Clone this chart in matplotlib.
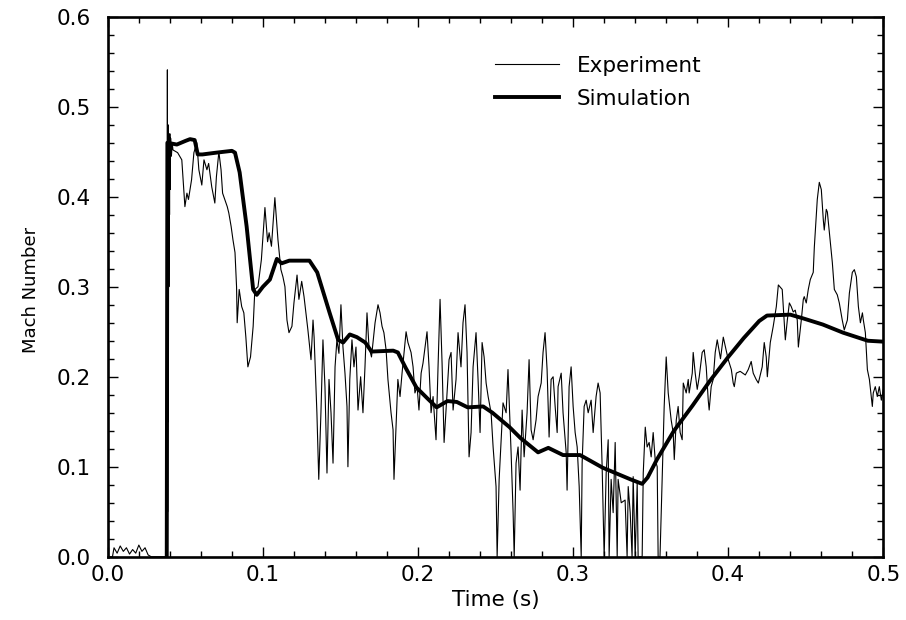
import matplotlib
matplotlib.use("Agg")
import matplotlib.pyplot as plt
from matplotlib.ticker import MultipleLocator

# ---------------- data ----------------
exp_t = [
    0.000, 0.003, 0.004, 0.006, 0.008, 0.010, 0.012, 0.014, 0.016, 0.018, 0.020, 0.022, 0.024, 0.026, 0.028, 0.0375,
    0.0380, 0.0382, 0.0384, 0.0386, 0.0388, 0.0390, 0.0392, 0.0394, 0.0396, 0.0398, 0.0400, 0.0402, 0.0405, 0.0410, 0.0415,
    0.042, 0.045, 0.0477, 0.0497, 0.051, 0.052, 0.054, 0.0555, 0.0574, 0.0587, 0.0606, 0.062, 0.0639, 0.065, 0.067,
    0.069, 0.070, 0.0716, 0.073, 0.074, 0.077, 0.078, 0.0795, 0.0807, 0.082, 0.083, 0.0834, 0.0847, 0.0863, 0.0877,
    0.089, 0.0903, 0.092, 0.0937, 0.0948, 0.0968, 0.099, 0.1013, 0.103, 0.104, 0.1055, 0.1077, 0.1097, 0.1116, 0.1129,
    0.1142, 0.1155, 0.1168, 0.1187, 0.120, 0.122, 0.1232, 0.125, 0.1265, 0.1277, 0.129, 0.131, 0.1323, 0.133, 0.1348,
    0.136, 0.1374, 0.1387, 0.140, 0.1413, 0.1426, 0.1439, 0.1452, 0.1465, 0.1477, 0.149, 0.1503, 0.1516, 0.1529, 0.1542,
    0.1548, 0.156, 0.1574, 0.1587, 0.160, 0.1613, 0.163, 0.1645, 0.1658, 0.1671, 0.1684, 0.170, 0.1723, 0.1742, 0.1755,
    0.1768, 0.178, 0.1794, 0.1806, 0.1826, 0.1839, 0.1845, 0.1858, 0.187, 0.1884, 0.1897, 0.191, 0.1923, 0.1935, 0.1955,
    0.1968, 0.198, 0.1994, 0.2006, 0.202, 0.2032, 0.2058, 0.2071, 0.2084, 0.2097, 0.2116, 0.2129, 0.2142, 0.2155, 0.2168,
    0.2187, 0.220, 0.2213, 0.2226, 0.2245, 0.2258, 0.2277, 0.229, 0.2303, 0.2316, 0.2329, 0.2342, 0.2355, 0.2374, 0.2387,
    0.240, 0.2413, 0.2426, 0.2439, 0.2452, 0.2471, 0.2484, 0.2503, 0.2510, 0.2523, 0.2535, 0.2548, 0.2568, 0.258, 0.260,
    0.2613, 0.2620, 0.2632, 0.2645, 0.2658, 0.2671, 0.2684, 0.2703, 0.2716, 0.2729, 0.2742, 0.2761, 0.2774, 0.2794, 0.2806,
    0.2819, 0.2832, 0.2845, 0.2858, 0.2871, 0.2884, 0.2897, 0.2903, 0.2923, 0.2935, 0.2955, 0.2961, 0.2974, 0.2987, 0.300,
    0.3013, 0.3026, 0.3039, 0.3052, 0.3058, 0.3071, 0.3084, 0.3097, 0.3116, 0.3129, 0.3148, 0.3161, 0.3174, 0.3187, 0.3200,
    0.3213, 0.3226, 0.3232, 0.3245, 0.3258, 0.3271, 0.3284, 0.3290, 0.331, 0.3335, 0.3348, 0.3355, 0.3368, 0.338, 0.3387,
    0.340, 0.3413, 0.3419, 0.3445, 0.3452, 0.3465, 0.3477, 0.349, 0.3503, 0.3516, 0.3529, 0.3542, 0.3548, 0.356, 0.3574,
    0.3587, 0.360, 0.3613, 0.3632, 0.3645, 0.3652, 0.3665, 0.3677, 0.369, 0.3703, 0.371, 0.3729, 0.3742, 0.3748, 0.3768,
    0.3774, 0.3787, 0.380, 0.3813, 0.3832, 0.3845, 0.3858, 0.3871, 0.3877, 0.389, 0.3903, 0.3916, 0.3929, 0.395, 0.3968,
    0.400, 0.402, 0.4032, 0.4039, 0.4052, 0.4077, 0.411, 0.4129, 0.4148, 0.4161, 0.418, 0.4194, 0.4219, 0.4232, 0.4245,
    0.4252, 0.4271, 0.429, 0.431, 0.4323, 0.4348, 0.4355, 0.4368, 0.4381, 0.4394, 0.4406, 0.4419, 0.4432, 0.4445, 0.4452,
    0.4471, 0.4484, 0.449, 0.4503, 0.4516, 0.4529, 0.4548, 0.4555, 0.4574, 0.4587, 0.460, 0.4613, 0.4619, 0.4632, 0.4639,
    0.4652, 0.4671, 0.4684, 0.4703, 0.4716, 0.4735, 0.4748, 0.4768, 0.4781, 0.480, 0.4813, 0.4826, 0.4839, 0.4852, 0.4865,
    0.4871, 0.4884, 0.4897, 0.491, 0.4929, 0.4935, 0.4948, 0.4961, 0.4974, 0.4987, 0.500,
]
exp_m = [
    0.000, 0.000, 0.010, 0.004, 0.012, 0.006, 0.010, 0.003, 0.008, 0.004, 0.013, 0.006, 0.010, 0.002, 0.000, 0.000,
    0.300, 0.000, 0.541, 0.050, 0.480, 0.150, 0.470, 0.300, 0.460, 0.380, 0.470, 0.408, 0.465, 0.445, 0.460,
    0.452, 0.449, 0.441, 0.389, 0.404, 0.397, 0.419, 0.449, 0.460, 0.430, 0.413, 0.441, 0.430, 0.437, 0.411,
    0.393, 0.422, 0.450, 0.430, 0.404, 0.389, 0.382, 0.367, 0.352, 0.338, 0.300, 0.260, 0.297, 0.278, 0.271,
    0.244, 0.211, 0.222, 0.256, 0.297, 0.300, 0.330, 0.388, 0.350, 0.360, 0.345, 0.399, 0.352, 0.319, 0.311,
    0.300, 0.263, 0.249, 0.256, 0.282, 0.313, 0.286, 0.306, 0.289, 0.271, 0.252, 0.219, 0.263, 0.244, 0.160,
    0.086, 0.160, 0.241, 0.189, 0.093, 0.197, 0.160, 0.104, 0.211, 0.241, 0.226, 0.280, 0.233, 0.204, 0.167,
    0.100, 0.197, 0.241, 0.211, 0.233, 0.163, 0.200, 0.160, 0.211, 0.271, 0.233, 0.222, 0.260, 0.280, 0.271,
    0.256, 0.249, 0.230, 0.197, 0.160, 0.141, 0.086, 0.144, 0.197, 0.178, 0.204, 0.227, 0.250, 0.238, 0.227,
    0.211, 0.182, 0.189, 0.163, 0.204, 0.215, 0.250, 0.211, 0.160, 0.178, 0.130, 0.211, 0.286, 0.215, 0.127,
    0.182, 0.219, 0.227, 0.163, 0.197, 0.249, 0.211, 0.260, 0.280, 0.227, 0.111, 0.138, 0.211, 0.249, 0.197,
    0.138, 0.238, 0.222, 0.193, 0.178, 0.160, 0.122, 0.078, 0.000, 0.086, 0.127, 0.171, 0.160, 0.208, 0.116,
    0.049, 0.000, 0.104, 0.122, 0.074, 0.163, 0.111, 0.160, 0.219, 0.141, 0.130, 0.152, 0.178, 0.193, 0.227,
    0.249, 0.208, 0.133, 0.197, 0.200, 0.167, 0.138, 0.189, 0.204, 0.160, 0.116, 0.074, 0.189, 0.211, 0.167,
    0.138, 0.122, 0.078, 0.000, 0.104, 0.167, 0.174, 0.160, 0.174, 0.138, 0.178, 0.193, 0.182, 0.100, 0.000,
    0.093, 0.130, 0.000, 0.086, 0.049, 0.127, 0.000, 0.086, 0.060, 0.063, 0.000, 0.078, 0.049, 0.000, 0.089,
    0.000, 0.082, 0.000, 0.000, 0.093, 0.144, 0.122, 0.127, 0.111, 0.138, 0.108, 0.100, 0.000, 0.000, 0.086,
    0.167, 0.222, 0.182, 0.152, 0.138, 0.108, 0.152, 0.167, 0.138, 0.130, 0.193, 0.182, 0.197, 0.182, 0.204,
    0.227, 0.204, 0.186, 0.200, 0.227, 0.230, 0.211, 0.174, 0.163, 0.189, 0.197, 0.227, 0.241, 0.220, 0.244,
    0.219, 0.208, 0.193, 0.189, 0.204, 0.206, 0.202, 0.208, 0.217, 0.204, 0.197, 0.193, 0.211, 0.238, 0.222,
    0.200, 0.238, 0.256, 0.278, 0.302, 0.297, 0.278, 0.241, 0.263, 0.282, 0.278, 0.272, 0.274, 0.263, 0.233,
    0.263, 0.286, 0.289, 0.282, 0.297, 0.308, 0.316, 0.344, 0.397, 0.416, 0.408, 0.374, 0.363, 0.386, 0.383,
    0.360, 0.327, 0.297, 0.291, 0.282, 0.263, 0.252, 0.263, 0.293, 0.316, 0.319, 0.311, 0.278, 0.260, 0.271,
    0.263, 0.249, 0.208, 0.197, 0.167, 0.182, 0.189, 0.178, 0.189, 0.174, 0.186,
]

sim_t = [
    0.0380, 0.0384, 0.0445, 0.050, 0.053, 0.056, 0.058, 0.061, 0.070, 0.080, 0.082, 0.085, 0.0895, 0.0937,
    0.096, 0.100, 0.1045, 0.109, 0.112, 0.117, 0.130, 0.135, 0.143, 0.1485, 0.1517, 0.156, 0.1606, 0.166,
    0.170, 0.184, 0.187, 0.192, 0.199, 0.206, 0.212, 0.219, 0.225, 0.232, 0.242, 0.248, 0.259, 0.266, 0.2774,
    0.284, 0.2935, 0.3045, 0.319, 0.337, 0.3445, 0.348, 0.354, 0.365, 0.377, 0.388, 0.400, 0.410, 0.420,
    0.425, 0.440, 0.448, 0.461, 0.474, 0.490, 0.500,
]
sim_m = [
    0.000, 0.460, 0.458, 0.462, 0.464, 0.463, 0.447, 0.447, 0.449, 0.451, 0.449, 0.427, 0.367, 0.297,
    0.291, 0.300, 0.308, 0.331, 0.326, 0.329, 0.329, 0.316, 0.271, 0.241, 0.238, 0.247, 0.244, 0.238,
    0.228, 0.229, 0.227, 0.210, 0.188, 0.176, 0.166, 0.173, 0.172, 0.166, 0.167, 0.160, 0.144, 0.132, 0.116,
    0.121, 0.113, 0.113, 0.099, 0.086, 0.081, 0.088, 0.108, 0.140, 0.168, 0.195, 0.222, 0.243, 0.262,
    0.268, 0.269, 0.265, 0.258, 0.249, 0.240, 0.239,
]

x_label = "Time (s)"
y_label = "Mach Number"
series_names = ["Experiment", "Simulation"]

# ---------------- figure ----------------
plt.rcParams['font.family'] = ['DejaVu Sans']
fig = plt.figure(figsize=(9.06, 6.2), dpi=100)
ax = fig.add_axes([0.119, 0.102, 0.856, 0.871])

ax.plot(exp_t, exp_m, color='black', lw=0.8, label=series_names[0])
ax.plot(sim_t, sim_m, color='black', lw=2.8, solid_joinstyle='round', label=series_names[1])

ax.set_xlim(0.0, 0.5)
ax.set_ylim(0.0, 0.6)
ax.xaxis.set_major_locator(MultipleLocator(0.1))
ax.xaxis.set_minor_locator(MultipleLocator(0.02))
ax.yaxis.set_major_locator(MultipleLocator(0.1))
ax.yaxis.set_minor_locator(MultipleLocator(0.02))
ax.xaxis.set_major_formatter(plt.FormatStrFormatter('%.1f'))
ax.yaxis.set_major_formatter(plt.FormatStrFormatter('%.1f'))

for s in ax.spines.values():
    s.set_linewidth(1.9)

ax.tick_params(which='both', direction='in', top=True, right=True, width=1.0)
ax.tick_params(which='major', length=7.5, labelsize=15.5)
ax.tick_params(axis='x', which='major', pad=6)
ax.tick_params(axis='y', which='major', pad=12)
ax.tick_params(which='minor', length=4.5)

ax.set_xlabel(x_label, fontsize=15.5)
ax.xaxis.set_label_coords(0.5, -0.062)
ax.set_ylabel(y_label, fontsize=13)
ax.yaxis.set_label_coords(-0.088, 0.495)

leg = ax.legend(loc='upper left', bbox_to_anchor=(0.499, 0.928), frameon=False,
                prop={'size': 15.5}, handlelength=3.0, handletextpad=0.8, labelspacing=0.62,
                borderpad=0, borderaxespad=0)

fig.savefig("out.png", dpi=100)
